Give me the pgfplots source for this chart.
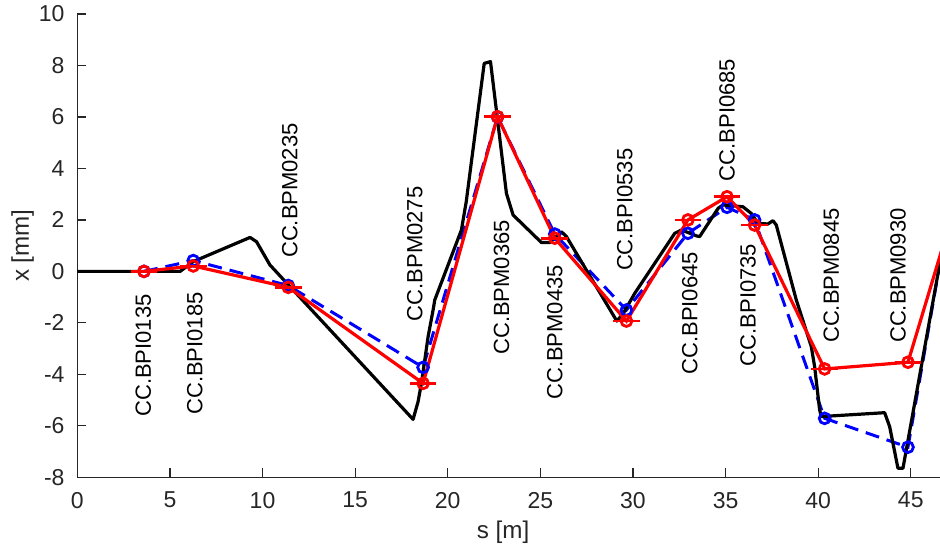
\documentclass[border=0pt]{standalone}
\usepackage{fontspec}
\setmainfont{Liberation Sans}
\usepackage{pgfplots}
\pgfplotsset{compat=1.18}
\definecolor{axgray}{RGB}{38,38,38}
\pgfdeclareplotmark{ocap}{%
  \pgfpathcircle{\pgfpointorigin}{\pgfplotmarksize}\pgfusepathqstroke
  \pgfpathmoveto{\pgfpoint{-6.7pt}{0pt}}\pgfpathlineto{\pgfpoint{6.7pt}{0pt}}\pgfusepathqstroke}
\begin{document}
\begin{tikzpicture}
\begin{axis}[
  scale only axis, width=431.35pt, height=231.65pt,
  xmin=0, xmax=46.58, ymin=-8, ymax=10,
  axis x line=bottom, axis y line=left,
  axis line style={-, draw=axgray, line width=0.6pt},
  tick align=inside, major tick length=4.5pt,
  tick style={draw=axgray, line width=0.6pt},
  xtick={0,5,...,45}, ytick={-8,-6,...,10},
  /pgf/number format/assume math mode=true,
  ticklabel style={font=\fontsize{11.5}{13}\selectfont, text=axgray},
  xticklabel style={inner sep=0pt, anchor=north, yshift=-7.2pt},
  yticklabel style={inner sep=0pt, anchor=east, xshift=-6.2pt},
  xlabel={s [m]}, ylabel={x [mm]},
  every axis x label/.style={at={(axis description cs:0.4935,-0.118)}, anchor=center, font=\fontsize{12.1}{14}\selectfont, text=axgray},
  every axis y label/.style={at={(axis description cs:-0.0635,0.5)}, anchor=center, rotate=90, font=\fontsize{12.1}{14}\selectfont, text=axgray},
  clip=true,
]
% BPM readings (blue, dashed)
\addplot[blue, line width=1.5pt, dash pattern=on 7pt off 4pt, mark=o, mark size=2.7pt, mark options={solid, line width=1.4pt}] coordinates {
(3.6,0.0) (6.26,0.42) (11.39,-0.55) (18.67,-3.73) (22.69,6.0) (25.78,1.45) (29.65,-1.50) (32.97,1.48) (35.08,2.49) (36.57,2.0) (40.35,-5.71) (44.85,-6.83) (47.2,2.9)
};
% model orbit (black)
\addplot[black, line width=1.6pt, line join=round] coordinates {
(0,0) (5.55,0) (6.26,0.38) (9.33,1.32) (9.68,1.15) (10.4,0.25) (11.48,-0.59)
(18.13,-5.75) (18.40,-5.06) (18.58,-4.35) (18.94,-2.54) (19.21,-1.50) (19.3,-1.11)
(20.74,1.61) (21.0,2.71) (21.97,8.08) (22.31,8.15) (23.17,3.03) (23.53,2.19)
(25.06,1.12) (25.51,1.12) (26.14,1.54) (26.41,1.35) (29.13,-1.93) (29.48,-1.63)
(30.1,-0.85) (32.26,1.48) (32.62,1.61) (33.43,1.38) (33.6,1.35) (34.6,2.45)
(34.86,2.58) (35.94,2.51) (36.39,2.25) (36.75,1.87) (37.29,1.84) (37.56,1.97)
(37.74,1.80) (38.82,-1.11) (39.63,-2.92) (39.81,-3.70) (40.08,-5.38) (40.17,-5.64)
(43.59,-5.49) (43.86,-6.03) (44.31,-7.65) (44.58,-7.65) (46.58,0.35) (47.0,2.03)
};
% fitted (red)
\addplot[red, line width=1.6pt, mark=ocap, mark size=2.7pt, mark options={solid, line width=1.4pt}] coordinates {
(3.6,0.0) (6.26,0.21) (11.39,-0.62) (18.67,-4.35) (22.69,6.01) (25.78,1.29) (29.65,-1.93) (32.97,2.0) (35.08,2.90) (36.57,1.80) (40.35,-3.79) (44.85,-3.53) (47.2,2.09)
};
\begin{scope}[every node/.style={rotate=90, anchor=west, inner sep=0pt, font=\fontsize{11}{13}\selectfont}]
\node at (axis cs:3.56,-5.66) {CC.BPI0135};
\node at (axis cs:6.35,-5.58) {CC.BPI0185};
\node at (axis cs:11.48,0.51) {CC.BPM0235};
\node at (axis cs:18.22,-1.95) {CC.BPM0275};
\node at (axis cs:22.9,-3.25) {CC.BPM0365};
\node at (axis cs:25.78,-5.0) {CC.BPM0435};
\node at (axis cs:29.56,0.0) {CC.BPI0535};
\node at (axis cs:33.07,-4.02) {CC.BPI0645};
\node at (axis cs:35.08,3.49) {CC.BPI0685};
\node at (axis cs:36.21,-3.70) {CC.BPI0735};
\node at (axis cs:40.71,-2.79) {CC.BPM0845};
\node at (axis cs:44.31,-2.79) {CC.BPM0930};
\end{scope}
\end{axis}
\pgfresetboundingbox
\path (-38.65pt,-35.85pt) rectangle (431.35pt,238.65pt);
\end{tikzpicture}
\end{document}
